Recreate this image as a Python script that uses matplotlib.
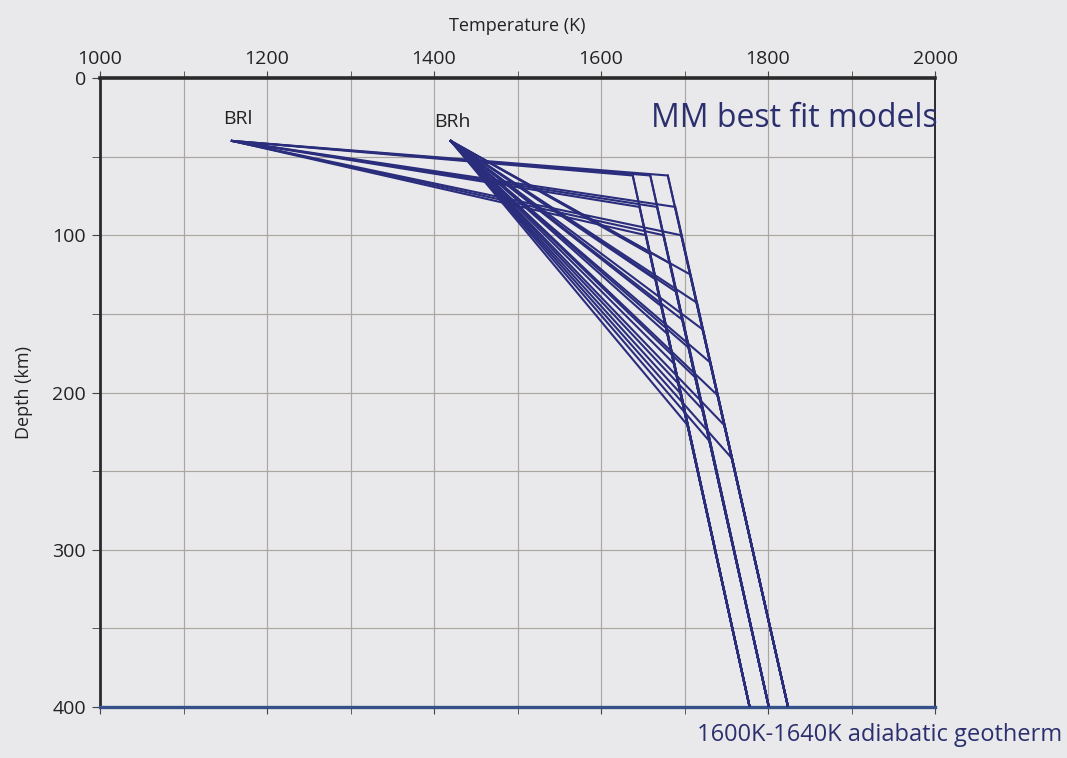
import matplotlib
matplotlib.use("Agg")
import matplotlib.pyplot as plt
from matplotlib.ticker import MultipleLocator

plt.rcParams['font.family'] = ['Open Sans', 'DejaVu Sans']

# starting points of the two conductive geotherm families (T in K, depth in km)
brl_T, brl_z = 1158, 40
brh_T, brh_z = 1420, 40

# three adiabats: temperature at the top (62 km) and at the base (400 km)
adiabat_top_T = [1638, 1659, 1680]
adiabat_top_z = 62
adiabat_base_T = [1778, 1801, 1824]
adiabat_base_z = 400

# kink points of the BRl geotherms (which adiabat, T, depth)
brl_kink_ad = [0, 1, 2, 0, 1, 2, 0, 1, 2]
brl_kink_T = [1638, 1659, 1680, 1646, 1667, 1689, 1654, 1675, 1696]
brl_kink_z = [62, 62, 62, 82, 82, 82, 100, 100, 100]

# kink points of the BRh geotherms
brh_kink_ad = [0] * 7 + [1] * 7 + [2] * 7
brh_kink_T = [1659, 1665, 1672, 1680, 1688, 1696, 1704,
              1683, 1690, 1698, 1706, 1714, 1722, 1730,
              1707, 1715, 1722, 1731, 1740, 1748, 1757]
brh_kink_z = [112, 128, 145, 163, 182, 201, 221,
              118, 136, 154, 172, 191, 211, 231,
              125, 143, 160, 181, 202, 221, 242]

bg = '#e9e9eb'
line_col = '#2a2c7c'
text_col = '#2b2f6e'

fig = plt.figure(figsize=(10.67, 7.58), dpi=100, facecolor=bg)
ax = fig.add_axes([100 / 1067, 1 - 707 / 758, 835 / 1067, 629 / 758])
ax.set_facecolor(bg)

def draw_family(T0, z0, kad, kT, kz):
    for a, t, z in zip(kad, kT, kz):
        ax.plot([T0, t, adiabat_base_T[a]], [z0, z, adiabat_base_z],
                color=line_col, lw=1.5, solid_joinstyle='miter', zorder=3)

# adiabats themselves
for a in range(3):
    ax.plot([adiabat_top_T[a], adiabat_base_T[a]], [adiabat_top_z, adiabat_base_z],
            color=line_col, lw=1.4, zorder=3)

draw_family(brl_T, brl_z, brl_kink_ad, brl_kink_T, brl_kink_z)
draw_family(brh_T, brh_z, brh_kink_ad, brh_kink_T, brh_kink_z)

ax.set_xlim(1000, 2000)
ax.set_ylim(400, 0)
ax.xaxis.set_major_locator(MultipleLocator(200))
ax.xaxis.set_minor_locator(MultipleLocator(100))
ax.yaxis.set_major_locator(MultipleLocator(100))
ax.yaxis.set_minor_locator(MultipleLocator(50))
ax.grid(which='both', color='#aaa69f', lw=0.85, zorder=1)

ax.xaxis.tick_top()
ax.xaxis.set_label_position('top')
ax.tick_params(axis='x', which='both', top=True, bottom=True, direction='out',
               length=5, color='#444444', labelsize=14, pad=2)
ax.tick_params(axis='y', which='both', left=True, direction='out',
               length=6, color='#444444', labelsize=14, pad=4)
for lab in ax.get_xticklabels() + ax.get_yticklabels():
    lab.set_color('#222222')

ax.set_xlabel('Temperature (K)', fontsize=13, color='#222222', labelpad=14)
ax.set_ylabel('Depth (km)', fontsize=13, color='#222222', labelpad=14)

ax.spines['top'].set_linewidth(2.6)
ax.spines['top'].set_color('#2a2a2a')
ax.spines['left'].set_linewidth(2.0)
ax.spines['left'].set_color('#2a2a2a')
ax.spines['bottom'].set_linewidth(2.4)
ax.spines['bottom'].set_color('#34518a')
ax.spines['right'].set_linewidth(1.4)
ax.spines['right'].set_color('#2a2a2a')

ax.text(1148, 26, 'BRl', fontsize=14, color='#222222', ha='left', va='center')
ax.text(1400, 28, 'BRh', fontsize=14, color='#222222', ha='left', va='center')
ax.text(2003, 26, 'MM best fit models', fontsize=23, color=text_col,
        ha='right', va='center')
fig.text(1062 / 1067, 1 - 735 / 758, '1600K-1640K adiabatic geotherm',
         fontsize=17, color=text_col, ha='right', va='center')

fig.savefig('out.png', dpi=100, facecolor=bg)
